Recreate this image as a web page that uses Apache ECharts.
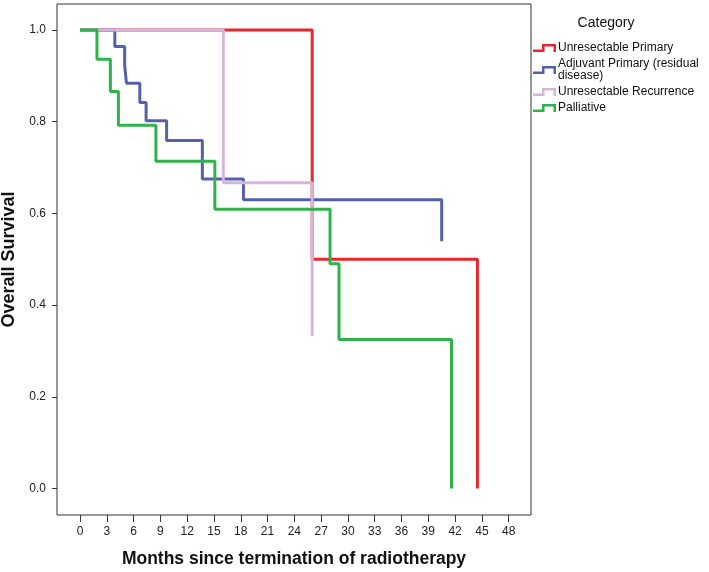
<!DOCTYPE html>
<html>
<head>
<meta charset="utf-8">
<script src="https://cdn.jsdelivr.net/npm/echarts@6/dist/echarts.min.js"></script>
<style>html,body{margin:0;padding:0;background:#fff;}#c{width:709px;height:572px;}</style>
</head>
<body>
<div id="c"></div>
<script>
// Kaplan-Meier step data (time in months, survival)
var seriesNames = ['Unresectable Primary', 'Adjuvant Primary (residual\ndisease)', 'Unresectable Recurrence', 'Palliative'];
var primaryTimes = [0, 26.0, 44.5];
var primarySurv  = [1.0, 0.500, 0.0];
var adjuvantTimes = [0, 3.9, 5.0, 5.2, 6.7, 7.4, 9.7, 13.7, 18.3, 40.5];
var adjuvantSurv  = [1.0, 0.964, 0.923, 0.884, 0.842, 0.802, 0.759, 0.675, 0.630, 0.539];
var recurrenceTimes = [0, 16.05, 26.0];
var recurrenceSurv  = [1.0, 0.667, 0.333];
var palliativeTimes = [0, 1.9, 3.4, 4.3, 8.5, 15.1, 28.0, 29.0, 41.6];
var palliativeSurv  = [1.0, 0.936, 0.866, 0.792, 0.714, 0.609, 0.490, 0.325, 0.0];
var xTicks = [0, 3, 6, 9, 12, 15, 18, 21, 24, 27, 30, 33, 36, 39, 42, 45, 48];
var yTicks = [0, 0.2, 0.4, 0.6, 0.8, 1.0];
var colors = ['#e8262e', '#5560ad', '#d5b6da', '#2db34a'];

function pairs(t, s) { return t.map(function (v, i) { return [v, s[i]]; }); }

var font = 'Liberation Sans, Arial, sans-serif';
var icon = 'path://M0,5.5 L9,5.5 L9,0 L23,0 L23,8 L20.5,8 L20.5,2.5 L11.5,2.5 L11.5,8 L0,8 Z';

var chart = echarts.init(document.getElementById('c'), null, { renderer: 'canvas' });
var data = [pairs(primaryTimes, primarySurv), pairs(adjuvantTimes, adjuvantSurv),
            pairs(recurrenceTimes, recurrenceSurv), pairs(palliativeTimes, palliativeSurv)];

chart.setOption({
  animation: false,
  backgroundColor: '#fff',
  textStyle: { fontFamily: font },
  title: {
    text: 'Category', left: 601, top: 11, textAlign: 'center',
    textStyle: { fontFamily: font, fontSize: 14, fontWeight: 'normal', color: '#111' }
  },
  legend: {
    orient: 'vertical', left: 528, top: 37,
    itemWidth: 23, itemHeight: 8, itemGap: 4,
    icon: icon,
    textStyle: { fontFamily: font, fontSize: 12, lineHeight: 12, color: '#111', padding: [0, 0, 0, -3] },
    data: seriesNames
  },
  grid: {
    left: 57, right: 178, top: 4, bottom: 57,
    outerBoundsMode: 'none', containLabel: false,
    show: true, borderColor: '#333', borderWidth: 1, backgroundColor: '#fff'
  },
  xAxis: {
    type: 'value', min: -2.575, max: 50.5,
    name: 'Months since termination of radiotherapy', nameLocation: 'middle', nameGap: 35,
    nameTextStyle: { fontFamily: font, fontSize: 17.5, fontWeight: 'bold', color: '#111' },
    axisLine: { show: false, onZero: false },
    splitLine: { show: false },
    axisTick: { show: true, customValues: xTicks, length: 7, inside: false, lineStyle: { color: '#333' } },
    axisLabel: { customValues: xTicks, fontFamily: font, fontSize: 12, color: '#222', margin: 11 }
  },
  yAxis: {
    type: 'value', min: -0.0578, max: 1.0567,
    name: 'Overall Survival', nameLocation: 'middle', nameGap: 34,
    nameTextStyle: { fontFamily: font, fontSize: 18, fontWeight: 'bold', color: '#111' },
    axisLine: { show: false, onZero: false },
    splitLine: { show: false },
    axisTick: { show: true, customValues: yTicks, length: 5, lineStyle: { color: '#333' } },
    axisLabel: { customValues: yTicks, fontFamily: font, fontSize: 12, color: '#222', margin: 11,
      formatter: function (v) { return v.toFixed(1); } }
  },
  series: seriesNames.map(function (n, i) {
    return {
      name: n, type: 'line', step: 'end', symbol: 'none',
      data: data[i], color: colors[i],
      lineStyle: { width: 3, color: colors[i] },
      z: 2 + i
    };
  })
});
</script>
</body>
</html>
